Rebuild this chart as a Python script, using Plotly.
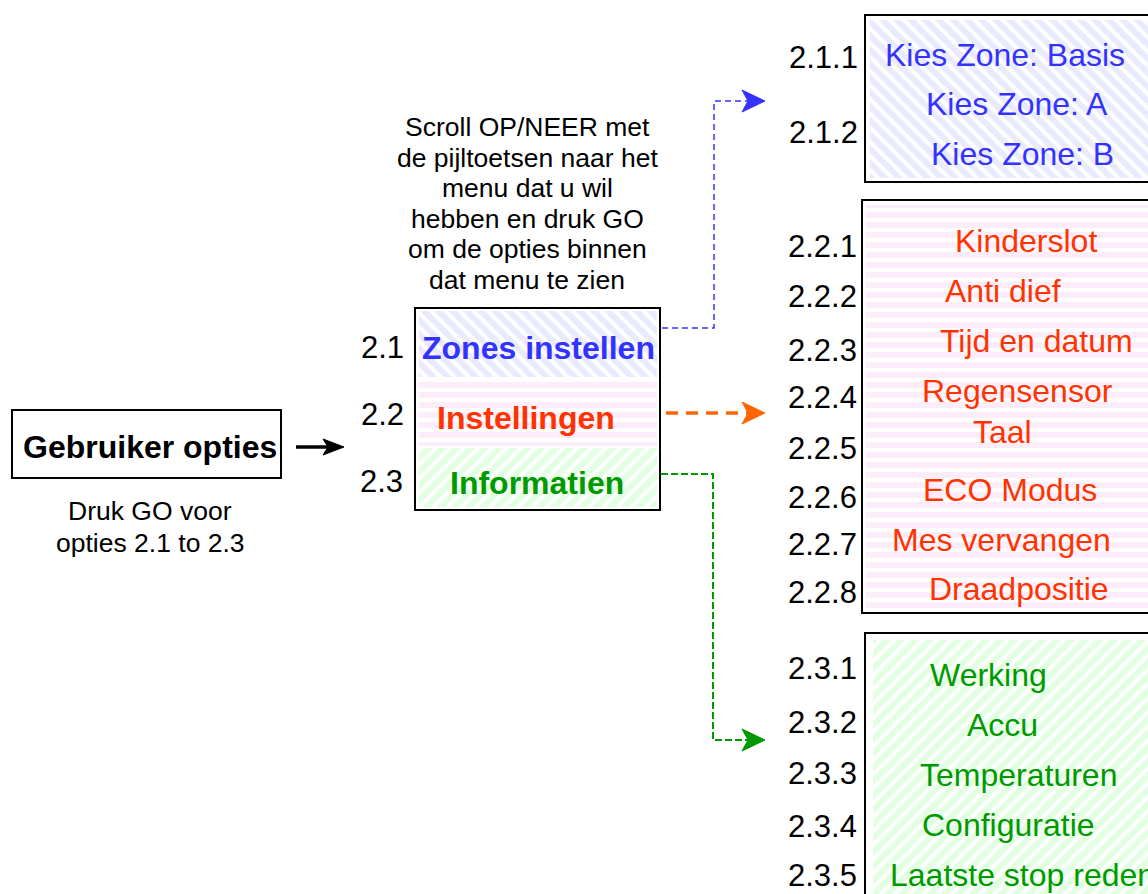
import plotly.graph_objects as go

W, H = 1148, 894
FONT = "Liberation Sans, Arial, sans-serif"

BLUE = "#3333ff"
RED = "#ff3300"
GREEN = "#009900"
ORANGE = "#ff6600"

# ---- content ----
main_title = "Gebruiker opties"
main_note = ["Druk GO voor", "opties 2.1 to 2.3"]
scroll_note = ["Scroll OP/NEER met", "de pijltoetsen naar het", "menu dat u wil",
               "hebben en druk GO", "om de opties binnen", "dat menu te zien"]
menu_ids = ["2.1", "2.2", "2.3"]
menu_items = ["Zones instellen", "Instellingen", "Informatien"]

zone_ids = ["2.1.1", "2.1.2"]
zone_items = ["Kies Zone: Basis", "Kies Zone: A", "Kies Zone: B"]

set_ids = ["2.2.1", "2.2.2", "2.2.3", "2.2.4", "2.2.5", "2.2.6", "2.2.7", "2.2.8"]
set_items = ["Kinderslot", "Anti dief", "Tijd en datum", "Regensensor", "Taal",
             "ECO Modus", "Mes vervangen", "Draadpositie"]

info_ids = ["2.3.1", "2.3.2", "2.3.3", "2.3.4", "2.3.5"]
info_items = ["Werking", "Accu", "Temperaturen", "Configuratie", "Laatste stop reden"]

# ---- layout constants (pixel positions) ----
zone_id_y = [57, 132]
zone_item_pos = [(1005, 55), (1017, 104), (1022, 154)]
set_id_y = [246, 296, 350, 397, 448, 497, 544, 592]
set_item_pos = [(1026, 241), (1003, 291), (1036, 341), (1017, 391), (1002, 432),
                (1010, 490), (1001, 540), (1019, 589)]
info_id_y = [668, 722, 773, 826, 875]
info_item_pos = [(988, 675), (1002, 725), (1018, 775), (1008, 825), (1018, 875)]

fig = go.Figure()


def hatched(x0, y0, x1, y1, shape, fg, size):
    fig.add_trace(go.Scatter(
        x=[x0, x1, x1, x0, x0], y=[y0, y0, y1, y1, y0], mode="lines",
        line=dict(width=0, color="rgba(0,0,0,0)"), fill="toself",
        fillcolor="white",
        fillpattern=dict(shape=shape, fgcolor=fg, bgcolor="white", size=size, solidity=0.6),
        hoverinfo="skip", showlegend=False))


# hatched backgrounds
hatched(419, 311, 657, 377, "\\", "#d6d6ff", 10)
hatched(419, 380, 657, 446, "-", "#fbdcf7", 10)
hatched(419, 448, 657, 507, "/", "#c4ffc4", 10)
hatched(870, 20, 1160, 178, "\\", "#d6d6ff", 10)
hatched(866, 205, 1160, 609, "-", "#fbdcf7", 10)
hatched(873, 640, 1160, 900, "/", "#c4ffc4", 10)

shapes = []
box = dict(type="rect", xref="x", yref="y", line=dict(color="black", width=2),
           fillcolor="rgba(0,0,0,0)", layer="above")
shapes.append(dict(box, x0=12, y0=410, x1=281, y1=478))
shapes.append(dict(box, x0=415, y0=308, x1=660, y1=510))
shapes.append(dict(box, x0=865, y0=15, x1=1170, y1=182))
shapes.append(dict(box, x0=862, y0=200, x1=1170, y1=613))
shapes.append(dict(box, x0=865, y0=633, x1=1170, y1=920))


def dashed(path, color, width, dash):
    shapes.append(dict(type="path", xref="x", yref="y", path=path,
                       line=dict(color=color, width=width, dash=dash)))


def head(xt, y, color, length=23, half=11, notch=6):
    shapes.append(dict(type="path", xref="x", yref="y",
                       path=f"M {xt},{y} L {xt-length},{y-half} L {xt-length+notch},{y} L {xt-length},{y+half} Z",
                       line=dict(color=color, width=1), fillcolor=color))


# black arrow
shapes.append(dict(type="line", xref="x", yref="y", x0=296, y0=447, x1=332, y1=447,
                   line=dict(color="black", width=3.5)))
head(344, 447, "black", length=21, half=8, notch=5)

dashed("M 662,328 L 714,328 L 714,101 L 750,101", BLUE, 1.5, "6px,4px")
head(765, 101, BLUE)
dashed("M 666,413 L 752,413", ORANGE, 3.5, "12px,8px")
head(765, 413, ORANGE)
dashed("M 661,474 L 713,474 L 713,740 L 752,740", GREEN, 2, "7px,3px")
head(765, 740, GREEN)

ann = []


def text(x, y, s, size, color="black", bold=False, xanchor="center"):
    ann.append(dict(x=x, y=y, xref="x", yref="y", text=f"<b>{s}</b>" if bold else s,
                    showarrow=False, xanchor=xanchor, yanchor="middle",
                    font=dict(family=FONT, size=size, color=color)))


BIG = 32
NUM = 31
SMALL = 26.5

text(150, 447, main_title, BIG, bold=True)
for i, s in enumerate(main_note):
    text(150, 511 + 32 * i, s, SMALL)
for i, s in enumerate(scroll_note):
    text(527, 127 + 30.6 * i, s, SMALL)

menu_id_pos = [(382, 347), (382, 414), (381, 481)]
menu_item_pos = [(538, 348), (526, 418), (537, 483)]
menu_colors = [BLUE, RED, GREEN]
for (x, y), s in zip(menu_id_pos, menu_ids):
    text(x, y, s, NUM)
for (x, y), s, c in zip(menu_item_pos, menu_items, menu_colors):
    text(x, y, s, BIG, color=c, bold=True)

for y, s in zip(zone_id_y, zone_ids):
    text(823, y, s, NUM)
for (x, y), s in zip(zone_item_pos, zone_items):
    text(x, y, s, BIG, color=BLUE)

for y, s in zip(set_id_y, set_ids):
    text(822, y, s, NUM)
for (x, y), s in zip(set_item_pos, set_items):
    text(x, y, s, BIG, color=RED)

for y, s in zip(info_id_y, info_ids):
    text(822, y, s, NUM)
for (x, y), s in zip(info_item_pos[:-1], info_items[:-1]):
    text(x, y, s, BIG, color=GREEN)
text(888, info_item_pos[-1][1], info_items[-1], BIG, color=GREEN, xanchor="left")

fig.update_layout(
    width=W, height=H, margin=dict(l=0, r=0, t=0, b=0),
    paper_bgcolor="white", plot_bgcolor="white",
    xaxis=dict(range=[0, W], visible=False, fixedrange=True),
    yaxis=dict(range=[H, 0], visible=False, fixedrange=True),
    shapes=shapes, annotations=ann, showlegend=False,
)
fig.write_html("out.html", config={"displayModeBar": False},
               post_script="document.body.style.margin='0';document.body.style.overflow='hidden';")
